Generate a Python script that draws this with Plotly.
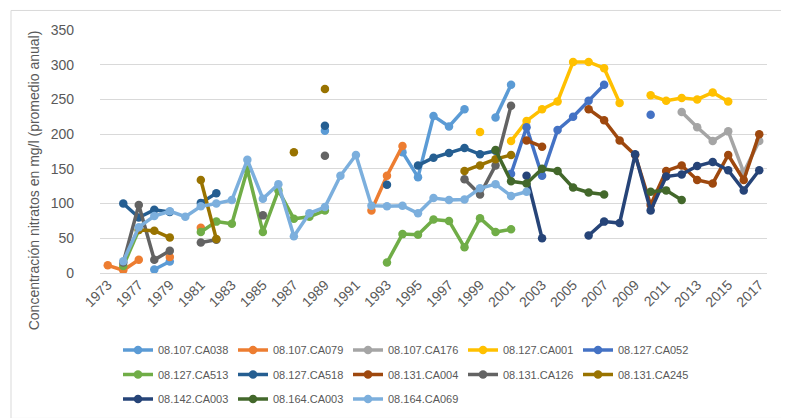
import plotly.graph_objects as go

# Categories of the x axis (1974 and 1975 are absent in the source)
CATEGORIES = ["1973", "1976"] + [str(y) for y in range(1977, 2018)]
TICK_LABELS = CATEGORIES[::2]

SERIES_NAMES = [
    "08.107.CA038", "08.107.CA079", "08.107.CA176", "08.127.CA001", "08.127.CA052",
    "08.127.CA513", "08.127.CA518", "08.131.CA004", "08.131.CA126", "08.131.CA245",
    "08.142.CA003", "08.164.CA003", "08.164.CA069",
]

# Values (year -> annual mean nitrate, mg/l)
CA038 = {1978: 5, 1979: 16.5, 1989: 205, 1994: 174, 1995: 138, 1996: 226, 1997: 211,
         1998: 236, 2000: 224, 2001: 271}
CA079 = {1973: 11, 1976: 4, 1977: 19, 1979: 23, 1981: 65, 1992: 90, 1993: 140, 1994: 183}
CA176 = {2012: 232, 2013: 210, 2014: 190, 2015: 204, 2016: 145, 2017: 190}
CA001 = {1999: 203, 2001: 190, 2002: 219, 2003: 236, 2004: 247, 2005: 304, 2006: 304,
         2007: 295, 2008: 245, 2010: 256, 2011: 248, 2012: 252, 2013: 250, 2014: 260,
         2015: 247}
CA052 = {2001: 143, 2002: 210, 2003: 140, 2004: 206, 2005: 225, 2006: 248, 2007: 271,
         2010: 228}
CA513 = {1976: 10, 1977: 62, 1981: 59, 1982: 74, 1983: 71, 1984: 149, 1985: 59, 1986: 119,
         1987: 78, 1988: 81, 1989: 90, 1993: 15, 1994: 56, 1995: 55, 1996: 77, 1997: 75,
         1998: 37, 1999: 79, 2000: 59, 2001: 63}
CA518 = {1976: 100, 1977: 80, 1978: 91, 1979: 88, 1981: 101, 1982: 115, 1989: 212,
         1993: 127, 1995: 155, 1996: 166, 1997: 173, 1998: 180, 1999: 171, 2000: 176}
CA004 = {2002: 191, 2003: 182, 2006: 236, 2007: 220, 2008: 191, 2009: 170, 2010: 98,
         2011: 147, 2012: 155, 2013: 134, 2014: 129, 2015: 170, 2016: 134, 2017: 200}
CA126 = {1976: 15, 1977: 98, 1978: 19, 1979: 32, 1981: 44, 1982: 48, 1985: 83, 1989: 169,
         1998: 135, 1999: 113, 2000: 155, 2001: 241}
CA245 = {1977: 62, 1978: 61, 1979: 51, 1981: 134, 1982: 49, 1987: 174, 1989: 265,
         1998: 147, 1999: 155, 2000: 164, 2001: 170}
CA003_142 = {2002: 140, 2003: 50, 2006: 54, 2007: 74, 2008: 72, 2009: 171, 2010: 90,
             2011: 139, 2012: 142, 2013: 154, 2014: 160, 2015: 148, 2016: 119, 2017: 148}
CA003_164 = {2000: 177, 2001: 132, 2002: 129, 2003: 150, 2004: 147, 2005: 123, 2006: 116,
             2007: 113, 2010: 117, 2011: 119, 2012: 105}
CA069 = {1976: 17, 1977: 66, 1978: 82, 1979: 89, 1980: 81, 1981: 96, 1982: 100, 1983: 105,
         1984: 163, 1985: 107, 1986: 128, 1987: 53, 1988: 86, 1989: 95, 1990: 140,
         1991: 170, 1992: 97, 1993: 96, 1994: 97, 1995: 86, 1996: 108, 1997: 105,
         1998: 106, 1999: 122, 2000: 128, 2001: 111, 2002: 117}

SERIES_VALUES = [CA038, CA079, CA176, CA001, CA052, CA513, CA518, CA004, CA126, CA245,
                 CA003_142, CA003_164, CA069]

COLORS = ["#5B9BD5", "#ED7D31", "#A5A5A5", "#FFC000", "#4472C4", "#70AD47", "#255E91",
          "#9E480E", "#636363", "#997300", "#264478", "#43682B", "#7CAFDD"]

FONT = "Liberation Sans, Arial, sans-serif"
GREY = "#595959"

fig = go.Figure()
legend_ids = ["legend"] * 5 + ["legend2"] * 5 + ["legend3"] * 3
for name, vals, col, lg in zip(SERIES_NAMES, SERIES_VALUES, COLORS, legend_ids):
    y = [vals.get(int(c)) for c in CATEGORIES]
    fig.add_trace(go.Scatter(
        x=CATEGORIES, y=y, name=name, mode="lines+markers",
        line=dict(color=col, width=3.5), marker=dict(color=col, size=8.5),
        connectgaps=False, legend=lg,
    ))

L, T, PW, PH = 92, 22, 667, 249


def px_x(px):
    return (px - L) / PW


def px_y(py):
    return (T + PH - py) / PH


leg_common = dict(orientation="h", xanchor="left", yanchor="middle",
                  entrywidth=70, entrywidthmode="pixels",
                  font=dict(family=FONT, size=11, color=GREY),
                  bgcolor="rgba(0,0,0,0)", traceorder="normal")

fig.update_layout(
    width=789, height=418,
    margin=dict(l=L, r=789 - L - PW, t=T, b=418 - T - PH),
    paper_bgcolor="white", plot_bgcolor="white",
    font=dict(family=FONT, color=GREY),
    showlegend=True,
    legend=dict(x=px_x(110), y=px_y(350), **leg_common),
    legend2=dict(x=px_x(110), y=px_y(375), **leg_common),
    legend3=dict(x=px_x(110), y=px_y(400), **leg_common),
    xaxis=dict(type="category", categoryorder="array", categoryarray=CATEGORIES,
               tickmode="array", tickvals=TICK_LABELS, ticktext=TICK_LABELS,
               tickangle=-45, tickfont=dict(size=14, color=GREY, family=FONT),
               showgrid=False, showline=False, ticks="", range=[-0.5, len(CATEGORIES) - 0.5]),
    yaxis=dict(range=[0, 350], dtick=50, showgrid=True, gridcolor="#D9D9D9", gridwidth=1,
               zeroline=True, zerolinecolor="#D9D9D9", zerolinewidth=1,
               tickfont=dict(size=14, color=GREY, family=FONT), ticks="",
               ticklabelstandoff=25),
    annotations=[dict(
        text="Concentración nitratos en mg/l (promedio anual)",
        xref="paper", yref="paper", x=px_x(26), y=px_y(176),
        textangle=-90, showarrow=False, xanchor="center", yanchor="middle",
        font=dict(family=FONT, size=14, color=GREY),
    )],
    shapes=[dict(type="rect", xref="paper", yref="paper",
                 x0=px_x(3), x1=px_x(783), y0=px_y(420), y1=px_y(2),
                 line=dict(color="#D9D9D9", width=1), fillcolor="rgba(0,0,0,0)",
                 layer="below")],
)

fig.write_html("out.html")
